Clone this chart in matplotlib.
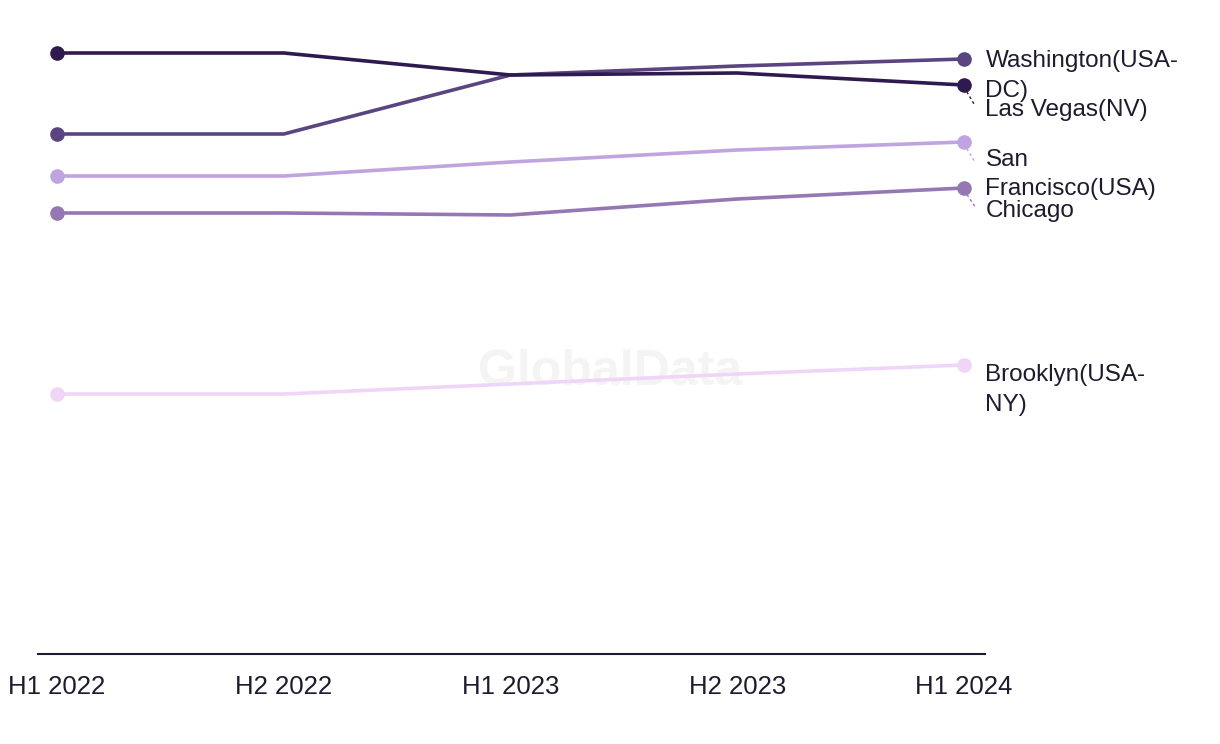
import matplotlib.pyplot as plt

plt.rcParams['font.family'] = ['Liberation Sans', 'DejaVu Sans']

periods = ["H1 2022", "H2 2022", "H1 2023", "H2 2023", "H1 2024"]

# values in arbitrary chart units (no y axis shown)
las_vegas     = [601, 601, 579, 581, 569]
washington    = [520, 520, 579, 588, 595]
san_francisco = [478, 478, 492, 504, 512]
chicago       = [441, 441, 439, 455, 466]
brooklyn      = [260, 260, 270, 280, 289]

series = [
    ("Brooklyn(USA-\nNY)", brooklyn, "#efd6f8"),
    ("Chicago", chicago, "#9477b3"),
    ("San\nFrancisco(USA)", san_francisco, "#c0a4e0"),
    ("Washington(USA-\nDC)", washington, "#5b4580"),
    ("Las Vegas(NV)", las_vegas, "#2e1a4f"),
]

# label positions (in data units) and whether a leader line is drawn
label_y = {
    "Brooklyn(USA-\nNY)": (264, False),
    "Chicago": (443, True),
    "San\nFrancisco(USA)": (479.5, True),
    "Washington(USA-\nDC)": (578, False),
    "Las Vegas(NV)": (544, True),
}

fig = plt.figure(figsize=(12.2, 7.44), dpi=100)
ax = fig.add_axes([38 / 1220, 90 / 744, (985 - 38) / 1220, (654 - 30) / 744])

x = list(range(len(periods)))
for name, vals, col in series:
    ax.plot(x, vals, color=col, lw=2.6, marker="o", ms=9.5, markevery=[0, len(x) - 1],
            solid_capstyle="round", zorder=3)
    ly, leader = label_y[name]
    ax.text(4.095, ly, name, fontsize=17.5, color="#1c1c2e", va="center", ha="left",
            linespacing=1.45, clip_on=False)
    if leader:
        ax.plot([4.0, 4.05], [vals[-1] - 2, ly + (12 if "\n" in name else 4)],
                color=col, lw=1, ls=(0, (2, 2)), clip_on=False, zorder=2)

ax.text(2.44, 282, "GlobalData", fontsize=36, fontweight="bold", color="#f4f4f4",
        ha="center", va="center", zorder=1)

ax.set_xlim(-0.084, 4.093)
ax.set_ylim(0, 624)
ax.set_xticks(x)
ax.set_xticklabels(periods, fontsize=18.5, color="#1c1c2e")
ax.tick_params(axis="x", length=0, pad=15)
ax.set_yticks([])
for s in ["top", "right", "left"]:
    ax.spines[s].set_visible(False)
ax.spines["bottom"].set_color("#1c1c2e")
ax.spines["bottom"].set_linewidth(1.5)

fig.savefig("out.png", dpi=100)
